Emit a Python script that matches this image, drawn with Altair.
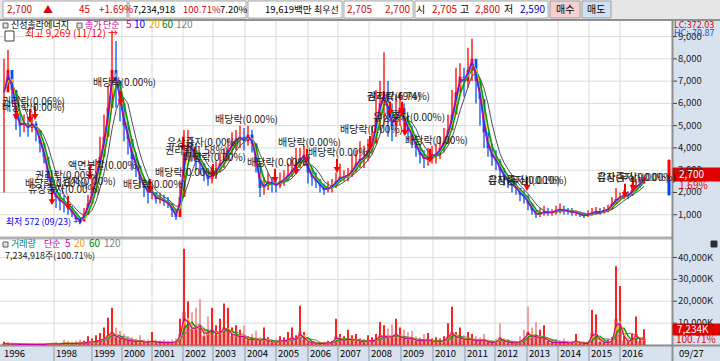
import altair as alt
import pandas as pd

FONT = "Noto Sans CJK KR"

# ---------------- data (one sample ~ one month of sessions) ----------------
close = [6500, 7500, 6600, 5300, 5000, 5100, 4900, 5100, 4800, 4200,
         3600, 2700, 2000, 1800, 1600, 1500, 1300, 1100, 800, 700,
         1000, 1500, 2000, 2800, 3600, 4500, 5800, 7500, 7000, 6000,
         5000, 4400, 3500, 3200, 2600, 2200, 2000, 2000, 1700, 1700,
         1600, 1500, 1200, 900, 1800, 3800, 4200, 3900, 3500, 3300,
         2900, 2600, 2800, 3000, 3300, 3500, 3900, 4200, 4400, 4500,
         4300, 4600, 4200, 3300, 2200, 2300, 2500, 2400, 2300, 2500,
         2600, 2800, 3000, 3300, 3500, 3700, 2900, 2700, 2500, 2300,
         2100, 2200, 2300, 2500, 2700, 2700, 2800, 3000, 3300, 3500,
         3600, 3900, 4200, 5300, 6000, 6500, 5500, 5000, 5400, 5800,
         5200, 4800, 4500, 4000, 3700, 3500, 3500, 3700, 3700, 4000,
         4300, 4800, 5500, 6500, 7200, 7000, 7500, 8000, 7000, 6200,
         4700, 4000, 3600, 3400, 3000, 2700, 2500, 2300, 2200, 1900,
         1800, 1500, 1200, 1000, 1050, 1150, 1100, 1100, 1200, 1250,
         1200, 1150, 1100, 1100, 1000, 950, 1000, 1100, 1150, 1100,
         1200, 1250, 1500, 1700, 1800, 1900, 1850, 2100, 2300, 2400,
         2700]
high = [8000, 8400, 7400, 6200, 5600, 5500, 5400, 5500, 5200, 4800,
        4200, 3500, 2500, 2300, 2000, 1900, 1700, 1400, 1100, 900,
        1300, 1900, 2600, 3500, 4500, 5500, 6800, 9269, 8800, 7000,
        5800, 5200, 4200, 3800, 3100, 2700, 2500, 2300, 2000, 2000,
        1900, 1800, 1500, 1200, 2500, 4800, 4800, 4500, 4200, 3800,
        3300, 3000, 3200, 3400, 3800, 4000, 4400, 4700, 4800, 5000,
        4900, 5000, 4800, 4000, 2800, 2700, 2900, 2700, 2700, 2900,
        3000, 3300, 3600, 4000, 4000, 4100, 3700, 3100, 2900, 2600,
        2400, 2500, 2600, 2900, 3300, 3000, 3100, 3750, 3900, 4300,
        4100, 4400, 5000, 6600, 7000, 8300, 7000, 6000, 6400, 6500,
        6000, 5500, 5000, 4600, 4200, 3900, 4000, 4100, 4200, 4500,
        4900, 5500, 6600, 7600, 7800, 7600, 8500, 8900, 7900, 7000,
        5500, 4500, 4200, 3900, 3500, 3100, 2800, 2600, 2500, 2200,
        2100, 1900, 1500, 1200, 1300, 1400, 1300, 1250, 1400, 1500,
        1400, 1300, 1300, 1200, 1150, 1100, 1200, 1300, 1350, 1300,
        1350, 1450, 1800, 2200, 2000, 2100, 2050, 2400, 2600, 2700,
        2800]
low = [2000, 6500, 6000, 4800, 4500, 4700, 4500, 4700, 4300, 3800,
       3300, 2600, 1500, 1300, 1200, 1100, 1000, 900, 650, 572,
       750, 1100, 1700, 2300, 3000, 3800, 4800, 6000, 5800, 5200,
       4300, 3700, 3000, 2700, 2200, 1800, 1500, 1700, 1500, 1500,
       1400, 1300, 900, 760, 1200, 3000, 3600, 3400, 3000, 2800,
       2500, 2300, 2400, 2600, 2900, 3100, 3400, 3700, 3900, 4000,
       3900, 4100, 3800, 2900, 1800, 1900, 2100, 2000, 2000, 2200,
       2300, 2500, 2700, 2900, 3100, 3200, 2400, 2300, 2200, 2000,
       1900, 2000, 2000, 2200, 2500, 2500, 2500, 2700, 2900, 3100,
       3100, 3400, 3700, 4300, 4800, 5000, 4500, 4300, 4500, 5000,
       4600, 4300, 4000, 3600, 3300, 3100, 3200, 3300, 3300, 3500,
       3800, 4200, 4800, 5800, 6500, 6300, 6700, 7000, 6000, 5000,
       4000, 3600, 3200, 3000, 2600, 2300, 2200, 2000, 1900, 1600,
       1500, 1200, 1000, 850, 900, 950, 950, 950, 1000, 1050,
       1000, 1000, 950, 950, 900, 850, 900, 950, 1000, 1000,
       1050, 1100, 1300, 1500, 1600, 1700, 1700, 1900, 2100, 2200,
       2590]
vol_max = [1500, 1200, 1000, 800, 600, 500, 800, 600, 500, 700,
           600, 900, 1200, 1500, 1000, 2500, 1800, 1500, 2000, 2500,
           2000, 4000, 3000, 4500, 5500, 8000, 12500, 17000, 8000, 6500,
           5000, 4000, 3500, 3000, 4500, 2500, 2500, 6000, 2500, 2000,
           2500, 2000, 2500, 3000, 12000, 44000, 20000, 15000, 17000, 21000,
           8000, 13000, 17000, 9000, 12000, 19000, 17000, 8000, 9000, 7000,
           9000, 4000, 5000, 6500, 3500, 8000, 3500, 2500, 3000, 4000,
           3500, 6000, 8000, 4500, 18000, 6000, 2500, 2000, 1500, 1200,
           1500, 2000, 2000, 12000, 5000, 4000, 7000, 4500, 5000, 3000,
           2500, 4500, 3500, 5000, 10500, 9000, 7500, 9500, 12000, 8000,
           7000, 6000, 6500, 4000, 3500, 5000, 5500, 3000, 3500, 3000,
           4000, 10000, 17500, 6000, 8000, 4500, 6000, 5000, 4000, 3500,
           5000, 2500, 2000, 3000, 10000, 3000, 2500, 2000, 1500, 4000,
           7000, 17500, 8000, 10500, 7000, 9000, 3500, 2000, 2500, 2000,
           3000, 2000, 2000, 5000, 1500, 1200, 1500, 16000, 14000, 3000,
           2000, 2500, 3500, 36000, 27000, 4000, 3000, 5000, 13000, 3500,
           7234]
vol_avg = [600, 500, 400, 350, 300, 250, 300, 300, 250, 300,
           300, 400, 500, 600, 500, 800, 700, 600, 800, 900,
           900, 1500, 1300, 1800, 2200, 3000, 4500, 6000, 3500, 3000,
           2500, 2000, 1800, 1500, 2000, 1200, 1200, 2000, 1200, 1000,
           1200, 1000, 1200, 1500, 5000, 15000, 9000, 7000, 8000, 9000,
           4000, 6000, 7000, 4500, 6000, 8000, 7000, 4000, 4500, 3500,
           4000, 2000, 2500, 3000, 1800, 3000, 1800, 1200, 1500, 2000,
           1800, 2500, 3500, 2000, 6000, 2500, 1200, 1000, 800, 700,
           800, 1000, 1000, 4000, 2500, 2000, 3000, 2200, 2500, 1500,
           1300, 2200, 1800, 2500, 4500, 4000, 3500, 4000, 5000, 3500,
           3000, 2800, 3000, 2000, 1800, 2300, 2500, 1500, 1800, 1500,
           2000, 4000, 6000, 3000, 3500, 2200, 2800, 2500, 2000, 1800,
           2500, 1300, 1000, 1500, 3500, 1500, 1200, 1000, 800, 1800,
           3000, 6000, 3500, 4000, 3000, 3500, 1800, 1000, 1200, 1000,
           1500, 1000, 1000, 2000, 800, 700, 800, 5500, 5000, 1500,
           1000, 1200, 1800, 12000, 9000, 2000, 1500, 2500, 5000, 1800,
           3000]
period = list(range(1, len(close) + 1))

year_labels = ["1996", "1998", "1999", "2000", "2001", "2002", "2003", "2004", "2005", "2006",
               "2007", "2008", "2009", "2010", "2011", "2012", "2013", "2014", "2015", "2016"]
year_pos = [0.5, 13.5, 23, 30.5, 38, 45.75, 53.25, 61.25, 69, 77,
            84.5, 92.25, 100.25, 108.25, 116.25, 123.75, 131.75, 139.5, 147.25, 155]

price_ticks = [1000, 2000, 3000, 4000, 5000, 6000, 7000, 8000, 9000]
vol_ticks = [10000, 20000, 30000, 40000]

ann_p = [0.5, 0.5, 23.25, 41.75, 41.25, 45.75, 53.75, 17, 8.75, 6.25, 15.5, 7,
         38.75, 30.75, 69.5, 61.75, 77, 85, 93.25, 91.75, 91.75, 101.25, 122, 122, 149.25, 149.25]
ann_price = [6060, 5790, 6920, 4220, 3860, 3550, 5250, 3190, 2740, 2380, 2470, 2110,
             2870, 2340, 4220, 3320, 3770, 4800, 5340, 6290, 6290, 4310, 2520, 2520, 2650, 2650]
ann_text = ["권리락(0.06%)", "배당락(0.00%)", "배당락(0.00%)", "유상증자(0.00%)", "권리락(1.58%)",
            "배당락(0.00%)", "배당락(0.00%)", "액면분할(0.00%)", "권리락(0.00%)", "배당락(0.00%)",
            "감자(0.00%)", "유상증자(0.00%)", "배당락(0.00%)", "배당락(0.00%)", "배당락(0.00%)",
            "배당락(0.00%)", "배당락(0.00%)", "배당락(0.00%)", "유상증자(0.00%)", "권리락(6.74%)",
            "감자(7.49%)", "배당락(0.00%)", "감자(무상)(0.10%)", "유상증자(0.00%)", "감자(무상)(0.00%)",
            "유상증자(0.00%)"]

arr_p = [4, 7.5, 8.75, 30.25, 13, 17, 22.5, 37.5, 45.75, 48.75, 53.25, 68.75, 74, 76.75,
         84.25, 92.5, 97.5, 100.5, 101.25, 107.5, 131.75, 156.25, 158.25]
arr_price = [5390, 5250, 5390, 6060, 1570, 1350, 2690, 2110, 4000, 3550, 2780, 2560, 2920, 3460,
             3010, 4040, 5570, 5570, 4670, 3460, 2200, 1890, 2200]

# ---------------- scales ----------------
XS = alt.Scale(domain=[0, 168], range=[0, 672])
PS = alt.Scale(domain=[0, 9700], range=[237, 21])
VS = alt.Scale(domain=[0, 48000], range=[345, 240])

df = pd.DataFrame(dict(p=period, close=close, high=high, low=low, vol=vol_max, avgvol=vol_avg))
sortp = [alt.SortField("p")]
X = alt.X("p:Q", scale=XS, axis=None)


def base():
    return (alt.Chart(df)
            .transform_window(prev="lag(close)", pvol="lag(avgvol)", sort=sortp)
            .transform_window(m20="mean(close)", v20="mean(avgvol)", frame=[-1, 0], sort=sortp)
            .transform_window(m60="mean(close)", v60="mean(avgvol)", frame=[-2, 0], sort=sortp)
            .transform_window(m120="mean(close)", v120="mean(avgvol)", frame=[-4, 0], sort=sortp)
            .transform_calculate(
                open="isValid(datum.prev) ? datum.prev : datum.close",
                pv="isValid(datum.pvol) ? datum.pvol : datum.avgvol",
            )
            .transform_calculate(
                m5="0.85*datum.close + 0.15*datum.open",
                m10="0.65*datum.close + 0.35*datum.open",
                v5="0.7*datum.avgvol + 0.3*datum.pv",
                cc="datum.close >= datum.open ? '#ff0000' : '#0050ff'",
                vc="datum.close >= datum.open ? '#ff2020' : '#f4a0a0'",
            ))


# ---------------- decorations (pixel layout) ----------------
def rects(rows):
    d = pd.DataFrame(rows, columns=["x", "x2", "y", "y2", "fill", "stroke"])
    return alt.Chart(d).mark_rect(strokeWidth=1).encode(
        x=alt.X("x:Q", scale=None, axis=None), x2="x2:Q",
        y=alt.Y("y:Q", scale=None, axis=None), y2="y2:Q",
        color=alt.Color("fill:N", scale=None), stroke=alt.Stroke("stroke:N", scale=None))


def texts(rows, align="left"):
    d = pd.DataFrame(rows, columns=["t", "x", "y", "c", "s"])
    return alt.Chart(d).mark_text(align=align, baseline="middle", font=FONT).encode(
        x=alt.X("x:Q", scale=None, axis=None), y=alt.Y("y:Q", scale=None, axis=None),
        text="t:N", color=alt.Color("c:N", scale=None), size=alt.Size("s:Q", scale=None))


RED, BLUE, MAG, ORG, GRN, GRY = "#e00000", "#0000c8", "#d000a0", "#f0a000", "#008000", "#808080"

bg = rects([
    (0, 720, 0, 20, "#e6e6e6", "#e6e6e6"),
    (3, 127, 1, 18, "white", "#a8a8a8"),
    (129, 246, 1, 18, "white", "#a8a8a8"),
    (248, 342, 1, 18, "white", "#a8a8a8"),
    (344, 413, 1, 18, "white", "#a8a8a8"),
    (415, 548, 1, 18, "white", "#a8a8a8"),
    (550, 580, 1, 18, "#f6d0d0", "#a0a0a0"),
    (582, 611, 1, 18, "#d0e0f4", "#a0a0a0"),
    (0, 672, 20, 345, "white", "white"),
    (672, 720, 20, 361, "#d8e2ee", "#d8e2ee"),
    (0, 720, 345, 361, "#d8e2ee", "#d8e2ee"),
])
frame = rects([
    (0, 720, 19.5, 20.5, "#909090", "#909090"),
    (0, 672, 237, 239, "#b0b0b0", "#b0b0b0"),
    (0, 720, 345, 346, "#909090", "#909090"),
    (672, 673, 20, 361, "#909090", "#909090"),
    (5, 14, 31, 41, "white", "#404040"),
    (3, 8, 23, 28, "#e0e0e0", "#606060"),
    (77, 82, 23, 28, "#e0e0e0", "#606060"),
    (3, 8, 242, 247, "#e0e0e0", "#606060"),
    (711, 717, 241, 247, "#303030", "#303030"),
    (673, 720, 168, 181, RED, RED),
    (673, 720, 324, 335, RED, RED),
    (668, 670, 160, 180, "#ff0000", "#ff0000"),
    (668, 670, 180, 195, "#0040ff", "#0040ff"),
])

# ---------------- grids & axes ----------------
pt = pd.DataFrame(dict(v=price_ticks))
vt = pd.DataFrame(dict(v=vol_ticks))
yr = pd.DataFrame(dict(pos=year_pos, lab=year_labels))

pgrid = alt.Chart(pt).mark_rule(color="#dadada", strokeWidth=1).encode(
    x=alt.value(0), x2=alt.value(672), y=alt.Y("v:Q", scale=PS, axis=None))
vgrid = alt.Chart(vt).mark_rule(color="#dadada", strokeWidth=1).encode(
    x=alt.value(0), x2=alt.value(672), y=alt.Y("v:Q", scale=VS, axis=None))
xgrid = alt.Chart(yr).transform_filter("datum.pos > 1").mark_rule(color="#dadada", strokeWidth=1).encode(
    x=alt.X("pos:Q", scale=XS, axis=None), y=alt.value(21), y2=alt.value(345))
xsep = alt.Chart(yr).transform_filter("datum.pos > 1").mark_rule(color="#8898a8", strokeWidth=1).encode(
    x=alt.X("pos:Q", scale=XS, axis=None), y=alt.value(346), y2=alt.value(361))
xlab = alt.Chart(yr).mark_text(align="left", baseline="middle", font=FONT, fontSize=9.5, dx=2, color="black").encode(
    x=alt.X("pos:Q", scale=XS, axis=None), y=alt.value(354), text="lab:N")

ptick = alt.Chart(pt).mark_rule(color="#404040").encode(
    x=alt.value(673), x2=alt.value(677), y=alt.Y("v:Q", scale=PS, axis=None))
plab = alt.Chart(pt).mark_text(align="left", baseline="middle", font=FONT, fontSize=9.5, color="#202020").encode(
    x=alt.value(678), y=alt.Y("v:Q", scale=PS, axis=None), text=alt.Text("v:Q", format=","))
vtick = alt.Chart(vt).mark_rule(color="#404040").encode(
    x=alt.value(673), x2=alt.value(677), y=alt.Y("v:Q", scale=VS, axis=None))
vlab = alt.Chart(vt).transform_calculate(t="format(datum.v, ',') + 'K'").mark_text(
    align="left", baseline="middle", font=FONT, fontSize=9.5, color="#202020").encode(
    x=alt.value(678), y=alt.Y("v:Q", scale=VS, axis=None), text="t:N")

# ---------------- volume ----------------
vbar = base().mark_rule(strokeWidth=2).encode(
    x=X, y=alt.Y("vol:Q", scale=VS, axis=None), y2=alt.datum(0), color=alt.Color("vc:N", scale=None))
vavg = base().mark_rule(strokeWidth=3, color="#e83030").encode(
    x=X, y=alt.Y("avgvol:Q", scale=VS, axis=None), y2=alt.datum(0))
vlines = [base().mark_line(color=c, strokeWidth=w).encode(x=X, y=alt.Y(f + ":Q", scale=VS, axis=None))
          for f, c, w in [("v120", GRY, 1), ("v60", "#00a000", 1.5), ("v20", "#ffc000", 1.5), ("v5", MAG, 1.2)]]

# ---------------- price ----------------
wick = base().mark_rule(strokeWidth=1.3).encode(
    x=X, y=alt.Y("low:Q", scale=PS, axis=None), y2="high:Q", color=alt.Color("cc:N", scale=None))
body = base().mark_rule(strokeWidth=2.8).encode(
    x=X, y=alt.Y("open:Q", scale=PS, axis=None), y2="close:Q", color=alt.Color("cc:N", scale=None))
plines = [base().mark_line(color=c, strokeWidth=w).encode(x=X, y=alt.Y(f + ":Q", scale=PS, axis=None))
          for f, c, w in [("m120", "#505050", 1), ("m60", "#00a000", 1.6), ("m20", "#ffc000", 1.8),
                          ("m10", "#0040ff", 1.5), ("m5", MAG, 1)]]

arr = pd.DataFrame(dict(p=arr_p, price=arr_price))
astem = alt.Chart(arr).transform_calculate(top="datum.price + 500").mark_rule(color="#ff0000", strokeWidth=2).encode(
    x=alt.X("p:Q", scale=XS, axis=None), y=alt.Y("price:Q", scale=PS, axis=None), y2="top:Q")
ahead = alt.Chart(arr).mark_point(shape="triangle-down", filled=True, color="#ff0000", size=45, opacity=1).encode(
    x=alt.X("p:Q", scale=XS, axis=None), y=alt.Y("price:Q", scale=PS, axis=None))

ann = pd.DataFrame(dict(p=ann_p, price=ann_price, t=ann_text))
anntext = alt.Chart(ann).mark_text(align="left", baseline="middle", font=FONT, fontSize=10, color="#202020").encode(
    x=alt.X("p:Q", scale=XS, axis=None), y=alt.Y("price:Q", scale=PS, axis=None), text="t:N")

hi = pd.DataFrame(dict(p=[28], price=[9269], t=["최고 9,269 (11/12) →"]))
lo = pd.DataFrame(dict(p=[20], price=[572], t=["최저 572 (09/23) →"]))
hitext = alt.Chart(hi).mark_text(align="right", baseline="middle", font=FONT, fontSize=10, color="#ff0000", dx=6, dy=3).encode(
    x=alt.X("p:Q", scale=XS, axis=None), y=alt.Y("price:Q", scale=PS, axis=None), text="t:N")
lotext = alt.Chart(lo).mark_text(align="right", baseline="middle", font=FONT, fontSize=9, color="#0000ff", dx=2, dy=-2).encode(
    x=alt.X("p:Q", scale=XS, axis=None), y=alt.Y("price:Q", scale=PS, axis=None), text="t:N")

# ---------------- header & legend texts ----------------
hdr = texts([
    ("2,700", 7, 10, RED, 10), ("▲", 43, 10, RED, 10), ("+1.69%", 99, 10, RED, 10),
    ("7,234,918", 133, 10, "black", 9.5), ("100.71%", 183, 10, RED, 9.5), ("7.20%", 220, 10, "black", 9.5),
    ("19,619백만", 265, 10, "black", 9.5), ("최우선", 314, 10, "black", 9),
    ("2,705", 347, 10, RED, 10), ("2,700", 385, 10, RED, 10), ("시", 416, 10, "black", 10),
    ("2,705", 432, 10, RED, 10), ("고", 460, 10, "black", 10), ("2,800", 475, 10, RED, 10),
    ("저", 504, 10, "black", 10), ("2,590", 520, 10, BLUE, 10),
    ("매수", 556, 10, "black", 10), ("매도", 587, 10, "black", 10),
    ("신성솔라에너지", 11, 25, "black", 9), ("종가", 85, 25, MAG, 9), ("단순", 103, 25, MAG, 9),
    ("5", 126, 25, MAG, 10), ("10", 134, 25, "#0000ff", 10), ("20", 149, 25, ORG, 10),
    ("60", 162, 25, GRN, 10), ("120", 176, 25, GRY, 10),
    ("LC:372.03", 674, 25, RED, 9), ("HC:-70.87", 674, 33, "#2050c0", 9),
    ("2,700", 679, 175, "white", 10), ("1.69%", 679, 186, RED, 10),
    ("거래량", 11, 244, "#008080", 9), ("단순", 44, 244, MAG, 9), ("5", 65, 244, MAG, 10),
    ("20", 74, 244, ORG, 10), ("60", 89, 244, GRN, 10), ("120", 104, 244, GRY, 10),
    ("7,234,918주(100.71%)", 5, 256, "#202020", 9),
    ("7,234K", 677, 330, "white", 10), ("100.71%", 676, 340, RED, 10),
    ("09/27", 679, 354, "black", 9.5),
])
hdr_r = texts([("45", 90, 10, RED, 10)], align="right")

chart = alt.layer(
    bg, pgrid, vgrid, xgrid, frame, xsep, xlab,
    vbar, vavg, *vlines,
    wick, body, *plines,
    astem, ahead, anntext, hitext, lotext,
    ptick, plab, vtick, vlab, hdr, hdr_r,
).resolve_scale(
    x="independent", y="independent", color="independent", stroke="independent", size="independent"
).properties(
    width=720, height=361, autosize=alt.AutoSizeParams(type="none"), padding=0
).configure_view(stroke=None)

chart.save("out.html", embed_options={"renderer": "svg", "actions": False})
